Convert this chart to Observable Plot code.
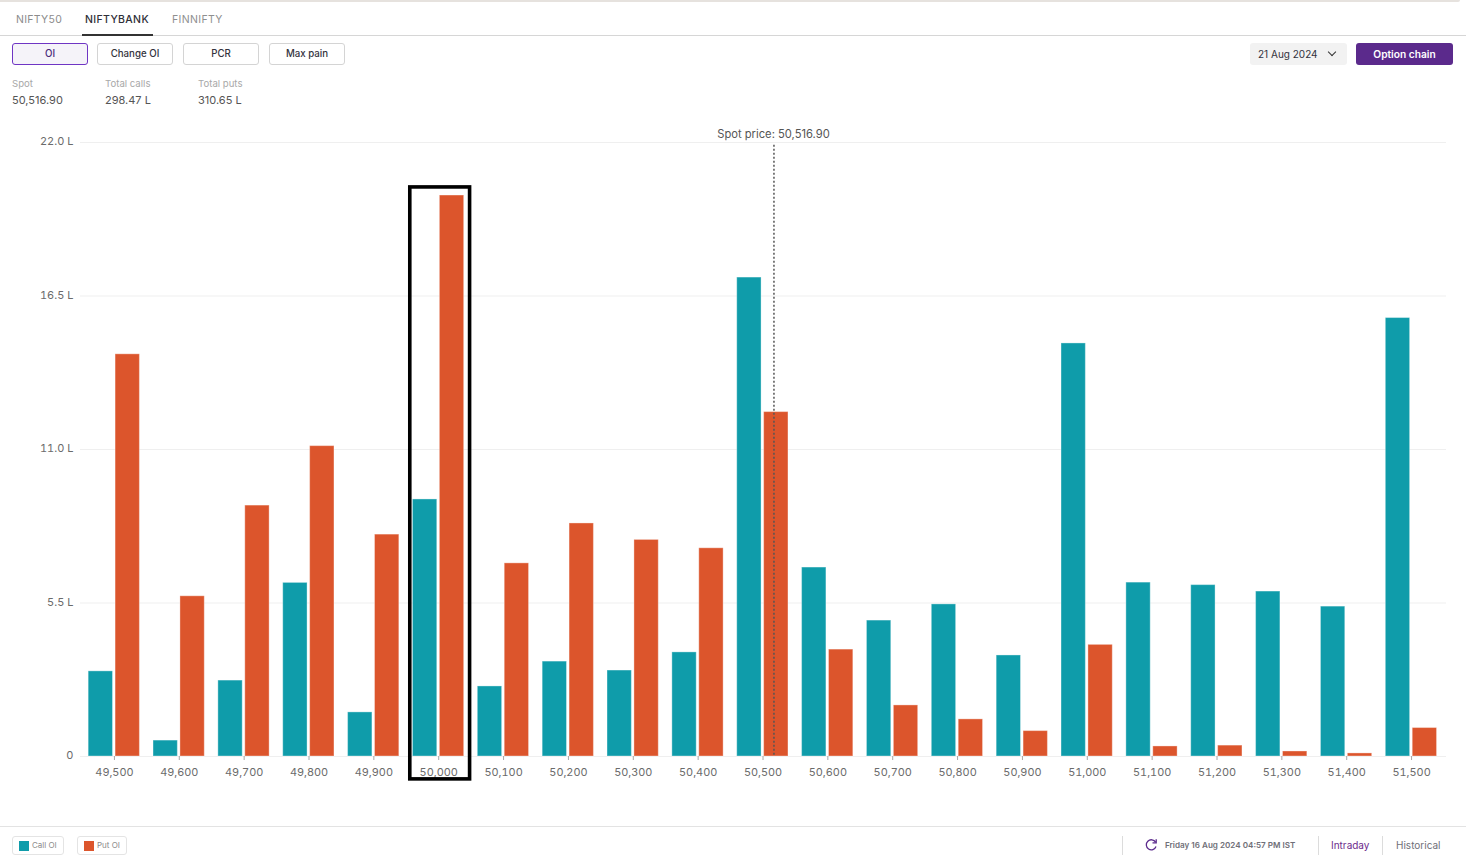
<!DOCTYPE html>
<html>
<head>
<meta charset="utf-8">
<script src="https://cdn.jsdelivr.net/npm/d3@7"></script>
<script src="https://cdn.jsdelivr.net/npm/@observablehq/plot@0.6"></script>
<style>
html,body{margin:0;padding:0;background:#fff;}
body{width:1466px;height:862px;position:relative;overflow:hidden;font-family:Inter,"Noto Sans",sans-serif;}
.a{position:absolute;white-space:nowrap;}
.btn{position:absolute;top:43px;height:20px;width:74px;border:1px solid #d4d4d4;border-radius:3px;text-align:center;line-height:20px;font-size:9.7px;font-weight:500;color:#33333d;}
.lab{font-size:9.6px;color:#a8a8a8;top:78px;line-height:12px;}
.val{font-size:11px;color:#555;top:94px;line-height:13px;}
.sep{position:absolute;top:836px;height:19px;width:1px;background:#dcdcdc;}
.leg{position:absolute;top:836px;height:17px;border:1px solid #e4e4e4;border-radius:3px;font-size:8px;color:#8b8b8b;line-height:17px;}
.leg i{position:absolute;left:6px;top:4px;width:10px;height:10px;}
.leg span{position:absolute;left:19px;}
#chart{position:absolute;left:0;top:120px;}
#chart svg{display:block;}
</style>
</head>
<body>
<div class="a" style="left:0;top:0;width:1460px;height:2px;background:#e6e2de;border-radius:0 0 3px 0;"></div>
<div class="a" style="left:0;top:35px;width:1466px;height:1px;background:#d6d6d6;"></div>
<div class="a" style="left:16px;top:13px;font-size:10.5px;line-height:14px;color:#8c8c8c;letter-spacing:.3px;">NIFTY50</div>
<div class="a" style="left:85px;top:13px;font-size:10.5px;line-height:14px;color:#2f2f38;font-weight:500;letter-spacing:.35px;">NIFTYBANK</div>
<div class="a" style="left:172px;top:13px;font-size:10.5px;line-height:14px;color:#8f8f8f;letter-spacing:.35px;">FINNIFTY</div>
<div class="a" style="left:82px;top:34px;width:71px;height:2px;background:#333;"></div>

<div class="btn" style="left:12px;border-color:#6f35c4;background:#f5f3f9;color:#4a2a7a;">OI</div>
<div class="btn" style="left:97px;">Change OI</div>
<div class="btn" style="left:183px;">PCR</div>
<div class="btn" style="left:269px;">Max pain</div>

<div class="a lab" style="left:12px;">Spot</div>
<div class="a val" style="left:12px;">50,516.90</div>
<div class="a lab" style="left:105px;">Total calls</div>
<div class="a val" style="left:105px;">298.47 L</div>
<div class="a lab" style="left:198px;">Total puts</div>
<div class="a val" style="left:198px;">310.65 L</div>

<div class="a" style="left:1250px;top:43px;width:97px;height:22px;background:#f2f2f2;border-radius:3px;"></div>
<div class="a" style="left:1258px;top:46.5px;font-size:10px;line-height:14px;color:#33333d;">21 Aug 2024</div>
<div class="a" style="left:1329px;top:49px;width:5px;height:5px;border-right:1.5px solid #333;border-bottom:1.5px solid #333;transform:rotate(45deg);"></div>
<div class="a" style="left:1356px;top:43px;width:97px;height:22px;background:#5b2a8c;border-radius:3px;text-align:center;line-height:23px;font-size:10.2px;font-weight:600;color:#fff;">Option chain</div>

<div id="chart"></div>

<div class="a" style="left:0;top:826px;width:1466px;height:1px;background:#e3e3e3;"></div>
<div class="leg" style="left:12px;width:50px;"><i style="background:#0f9caa;"></i><span>Call OI</span></div>
<div class="leg" style="left:77px;width:48px;"><i style="background:#dc552c;"></i><span>Put OI</span></div>
<div class="sep" style="left:1122px;"></div>
<div class="sep" style="left:1318px;"></div>
<div class="sep" style="left:1382px;"></div>
<svg class="a" style="left:1144px;top:838px;" width="14" height="15" viewBox="0 0 14 15"><path d="M11.6 4.2A5 5 0 1 0 12 8.5" fill="none" stroke="#5b2a8c" stroke-width="1.3"/><path d="M12.2 1.2V4.9H8.5" fill="none" stroke="#5b2a8c" stroke-width="1.3"/></svg>
<div class="a" style="left:1165px;top:839px;font-size:8.1px;line-height:12px;font-weight:600;color:#6f6f78;">Friday 16 Aug 2024 04:57 PM IST</div>
<div class="a" style="left:1331px;top:839px;font-size:10px;line-height:13px;color:#6d2a8c;">Intraday</div>
<div class="a" style="left:1396px;top:839px;font-size:10px;line-height:13px;color:#6f6f78;">Historical</div>

<script>
const strikes = [49500,49600,49700,49800,49900,50000,50100,50200,50300,50400,50500,50600,50700,50800,50900,51000,51100,51200,51300,51400,51500];
const callOI = [3.05,0.57,2.72,6.22,1.58,9.21,2.51,3.40,3.08,3.73,17.16,6.77,4.87,5.45,3.62,14.80,6.23,6.14,5.91,5.37,15.71];
const putOI = [14.41,5.74,8.99,11.12,7.95,20.10,6.92,8.35,7.76,7.46,12.34,3.83,1.83,1.33,0.91,4.00,0.36,0.39,0.18,0.11,1.02];
const yTicks = [0,5.5,11,16.5,22];
const spot = 50516.9;
const callColor = "#0f9caa", putColor = "#dc552c";

const rows = strikes.map((s,i)=>({strike:s,call:callOI[i],put:putOI[i]}));
const inter = "Inter, 'Noto Sans', sans-serif";

const plot = Plot.plot({
  width:1466, height:680,
  marginTop:22, marginBottom:44, marginLeft:82, marginRight:22,
  style:{background:"transparent",fontFamily:inter,fontSize:"11px",overflow:"visible"},
  x:{type:"linear",domain:[49450,51550]},
  y:{domain:[0,22]},
  marks:[
    Plot.ruleY(yTicks,{stroke:"#efefef",strokeWidth:1,insetLeft:-2,insetRight:-2}),
    Plot.rectY(rows,{x1:d=>d.strike-40.5,x2:d=>d.strike-3,y1:0,y2:"call",fill:callColor,stroke:"#fff",strokeOpacity:0.35,strokeWidth:1}),
    Plot.rectY(rows,{x1:d=>d.strike+1,x2:d=>d.strike+38.5,y1:0,y2:"put",fill:putColor,stroke:"#fff",strokeOpacity:0.35,strokeWidth:1}),
    Plot.axisY({ticks:yTicks,tickSize:0,tickPadding:9,dy:-1,tickFormat:d=>d===0?"0":d.toFixed(1)+" L",label:null,color:"#6b6b6b",fontSize:11}),
    Plot.axisX({ticks:strikes,tickSize:4,tickPadding:8,dx:-0.5,tickFormat:d3.format(","),label:null,color:"#6b6b6b",stroke:"#a8a8a8",fontSize:10.9}),
    Plot.ruleX([spot],{y1:21.9,y2:0,stroke:"#555",strokeWidth:1.5,strokeDasharray:"2,2",dx:-0.5}),
    Plot.text([spot],{x:d=>d,frameAnchor:"top",dy:-12,dx:-1,text:d=>"Spot price: "+d3.format(",.2f")(d),fill:"#555",fontSize:11.2}),
    Plot.rect([50000],{x1:d=>d-44.6,x2:d=>d+47.6,y1:-0.82,y2:20.39,fill:"none",stroke:"#000",strokeWidth:3.6})
  ]
});
document.getElementById("chart").appendChild(plot);
</script>
</body>
</html>
